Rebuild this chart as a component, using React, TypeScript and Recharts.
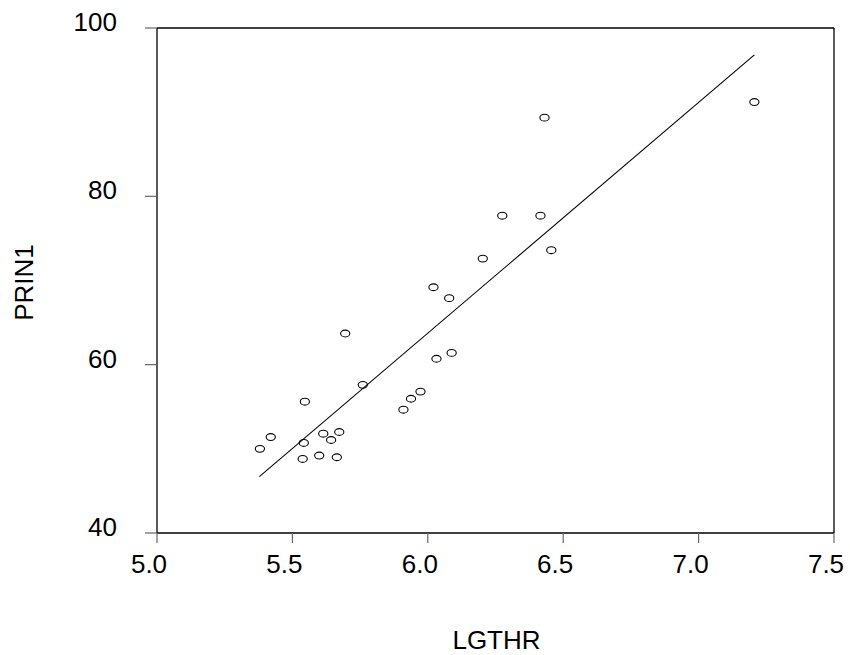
import React from "react";
import {
  ScatterChart,
  Scatter,
  XAxis,
  YAxis,
  ReferenceLine,
  Label,
} from "recharts";

const lgthr = [
  5.38, 5.42, 5.542, 5.546, 5.538, 5.599, 5.614, 5.643, 5.664, 5.673, 5.695, 5.76,
  5.91, 5.938, 5.973, 6.021, 6.032, 6.079, 6.088, 6.203, 6.275, 6.416, 6.431, 6.456,
  7.206,
];
const prin1 = [
  50.0, 51.4, 50.7, 55.6, 48.8, 49.2, 51.8, 51.05, 49.0, 52.0, 63.7, 57.6, 54.65,
  55.95, 56.8, 69.2, 60.7, 67.9, 61.4, 72.6, 77.7, 77.7, 89.35, 73.6, 91.2,
];
const fitX = [5.378, 7.206];
const fitY = [46.69, 96.8];
const xTicks = [5.0, 5.5, 6.0, 6.5, 7.0, 7.5];
const yTicks = [40, 60, 80, 100];

const points = lgthr.map((x, i) => ({ x, y: prin1[i] }));
const fitLine = fitX.map((x, i) => ({ x, y: fitY[i] }));

const FONT = "'Liberation Sans', Arial, Helvetica, sans-serif";

const Ellipse = (props: any) => {
  const { cx, cy } = props;
  if (cx == null || cy == null) return <g />;
  return (
    <ellipse cx={cx} cy={cy} rx={4.6} ry={3.4} fill="none" stroke="#000" strokeWidth={1.1} />
  );
};

const Nothing = () => <g />;

const XTick = (props: any) => {
  const { x, y, payload } = props;
  return (
    <text x={x - 8} y={y} dy={18.5} textAnchor="middle" fontSize={26} fontFamily={FONT} fill="#000">
      {Number(payload.value).toFixed(1)}
    </text>
  );
};

const YTick = (props: any) => {
  const { x, y, payload } = props;
  return (
    <text x={x} y={y} dy={3} textAnchor="end" fontSize={26} fontFamily={FONT} fill="#000">
      {payload.value}
    </text>
  );
};

export default function App() {
  return (
    <div style={{ position: "absolute", left: 0, top: 0, background: "#fff" }}>
      <ScatterChart
        width={850}
        height={655}
        margin={{ top: 28, right: 16, bottom: 62, left: 57 }}
      >
        <XAxis
          type="number"
          dataKey="x"
          domain={[5, 7.5]}
          ticks={xTicks}
          height={60}
          tickSize={10}
          tickMargin={11}
          axisLine={{ stroke: "#000", strokeWidth: 1.3 }}
          tickLine={{ stroke: "#666", strokeWidth: 1.2 }}
          tick={<XTick />}
          interval={0}
        >
          <Label
            content={(p: any) => {
              const vb = p.viewBox;
              return (
                <text
                  x={vb.x + vb.width / 2 + 1}
                  y={vb.y + 116}
                  textAnchor="middle"
                  fontSize={26}
                  fontFamily={FONT}
                  fill="#000"
                >
                  LGTHR
                </text>
              );
            }}
          />
        </XAxis>
        <YAxis
          type="number"
          dataKey="y"
          domain={[40, 100]}
          ticks={yTicks}
          width={100}
          tickSize={12}
          tickMargin={28}
          axisLine={{ stroke: "#000", strokeWidth: 1.3 }}
          tickLine={{ stroke: "#666", strokeWidth: 1.2 }}
          tick={<YTick />}
          interval={0}
        >
          <Label
            content={(p: any) => {
              const vb = p.viewBox;
              const cx = 33;
              const cy = vb.y + vb.height / 2 + 2;
              return (
                <text
                  x={cx}
                  y={cy}
                  textAnchor="middle"
                  transform={`rotate(-90, ${cx}, ${cy})`}
                  fontSize={26}
                  fontFamily={FONT}
                  fill="#000"
                >
                  PRIN1
                </text>
              );
            }}
          />
        </YAxis>
        <ReferenceLine y={100} stroke="#000" strokeWidth={1.3} />
        <ReferenceLine x={7.5} stroke="#000" strokeWidth={1.3} />
        <Scatter
          data={fitLine}
          line={{ stroke: "#000", strokeWidth: 1.1 }}
          shape={<Nothing />}
          isAnimationActive={false}
        />
        <Scatter data={points} shape={<Ellipse />} isAnimationActive={false} />
      </ScatterChart>
    </div>
  );
}
